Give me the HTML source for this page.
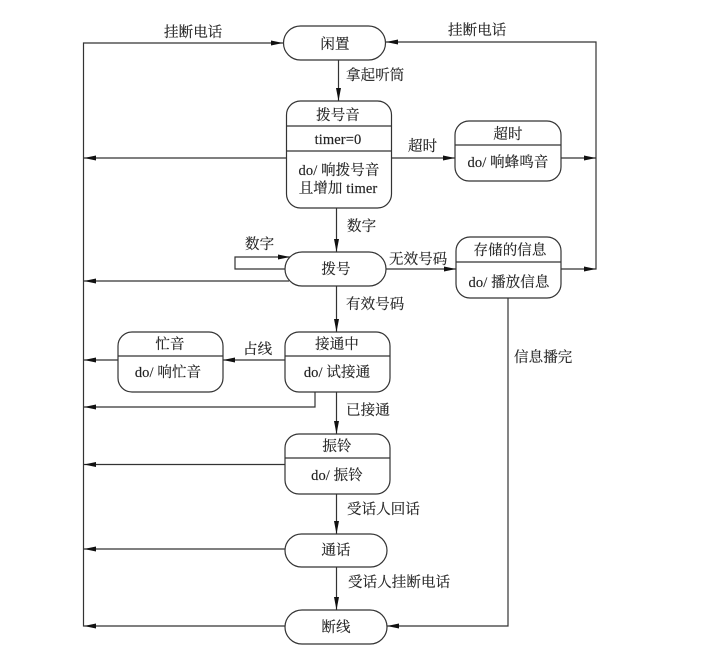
<!DOCTYPE html>
<html><head><meta charset="utf-8"><style>
html,body{margin:0;padding:0;background:#fff}
svg{display:block;filter:blur(.35px)}
text{font-family:"Liberation Serif","Noto Serif CJK SC",serif;font-size:14.5px;fill:#222;stroke:#222;stroke-width:.15;letter-spacing:.1px}
.c{text-anchor:middle}
.s{fill:#fff;stroke:#333;stroke-width:1.2}
.l{fill:none;stroke:#333;stroke-width:1.2}
.a{fill:#111;stroke:none}
</style></head><body>
<svg width="702" height="652" viewBox="0 0 702 652" xmlns="http://www.w3.org/2000/svg">
<rect width="702" height="652" fill="#fff"/>
<!-- connector lines -->
<path class="l" d="M283 43H83.500V626H285"/>
<path class="l" d="M386 42H596V269H561"/>
<path class="l" d="M287 158H84M392 158H455M561 158H596"/>
<path class="l" d="M338.500 60V101M336.500 208V252M336.500 286V332M336.500 392V434M336.500 494V534M336.500 567V610"/>
<path class="l" d="M290 257H235V269H286M289 281H84M386 269H456"/>
<path class="l" d="M508 298V626H387"/>
<path class="l" d="M285 360H223M118 360H84M315 392V407H84"/>
<path class="l" d="M285 464.500H84M285 549H84"/>
<!-- arrowheads -->
<path class="a" d="M283 43l-12-2.500v5zM386 42l12-2.500v5zM84 158l12-2.500v5zM455 158l-12-2.500v5zM596 158l-12-2.500v5z"/>
<path class="a" d="M84 281l12-2.500v5zM456 269l-12-2.500v5zM596 269l-12-2.500v5zM290 257l-12-2.500v5z"/>
<path class="a" d="M223 360l12-2.500v5zM84 360l12-2.500v5zM84 407l12-2.500v5zM84 464.500l12-2.500v5zM84 549l12-2.500v5zM84 626l12-2.500v5zM387 626l12-2.500v5z"/>
<path class="a" d="M338.500 101l-2.500-13h5zM336.500 252l-2.500-13h5zM336.500 332l-2.500-13h5zM336.500 434l-2.500-13h5zM336.500 534l-2.500-13h5zM336.500 610l-2.500-13h5z"/>
<!-- states -->
<rect class="s" x="283.500" y="26" width="102" height="34" rx="17"/>
<rect class="s" x="286.500" y="101" width="105" height="107" rx="14"/>
<path class="l" d="M286.500 126H391.500M286.500 151H391.500"/>
<rect class="s" x="455" y="121" width="106" height="60" rx="14"/>
<path class="l" d="M455 145H561"/>
<rect class="s" x="285" y="252" width="101" height="34" rx="17"/>
<rect class="s" x="456" y="237" width="105" height="61" rx="14"/>
<path class="l" d="M456 262H561"/>
<rect class="s" x="285" y="332" width="105" height="60" rx="14"/>
<path class="l" d="M285 356H390"/>
<rect class="s" x="118" y="332" width="105" height="60" rx="14"/>
<path class="l" d="M118 356H223"/>
<rect class="s" x="285" y="434" width="105" height="60" rx="14"/>
<path class="l" d="M285 458H390"/>
<rect class="s" x="285" y="534" width="102" height="33" rx="16.500"/>
<rect class="s" x="285" y="610" width="102" height="34" rx="17"/>
<!-- state text -->
<text class="c" x="335" y="49">闲置</text>
<text class="c" x="338" y="120">拨号音</text>
<text class="c" x="338" y="144">timer=0</text>
<text class="c" x="339" y="175">do/ 响拨号音</text>
<text class="c" x="338" y="193">且增加 timer</text>
<text class="c" x="508" y="139">超时</text>
<text class="c" x="508" y="167">do/ 响蜂鸣音</text>
<text class="c" x="336" y="274">拨号</text>
<text class="c" x="510" y="255">存储的信息</text>
<text class="c" x="509" y="287">do/ 播放信息</text>
<text class="c" x="337" y="349">接通中</text>
<text class="c" x="337" y="377">do/ 试接通</text>
<text class="c" x="170" y="349">忙音</text>
<text class="c" x="168" y="377">do/ 响忙音</text>
<text class="c" x="337" y="451">振铃</text>
<text class="c" x="337" y="480">do/ 振铃</text>
<text class="c" x="336" y="555">通话</text>
<text class="c" x="336" y="632">断线</text>
<!-- transition labels -->
<text x="164" y="37">挂断电话</text>
<text x="448" y="35">挂断电话</text>
<text x="346" y="80">拿起听筒</text>
<text x="408" y="151">超时</text>
<text x="347" y="231">数字</text>
<text x="245" y="249">数字</text>
<text x="389" y="264">无效号码</text>
<text x="346" y="309">有效号码</text>
<text x="243" y="354">占线</text>
<text x="514" y="362">信息播完</text>
<text x="346" y="415">已接通</text>
<text x="347" y="514">受话人回话</text>
<text x="348" y="587">受话人挂断电话</text>
</svg>
</body></html>
